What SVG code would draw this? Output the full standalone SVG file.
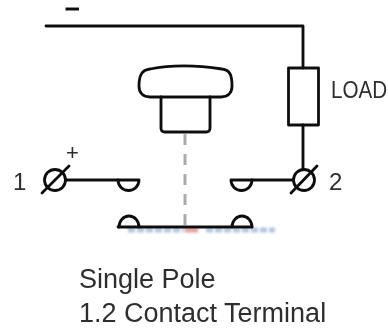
<svg xmlns="http://www.w3.org/2000/svg" width="388" height="329" viewBox="0 0 388 329">
<style>
.w{fill:none;stroke:#111;stroke-width:2.8;stroke-linecap:round;stroke-linejoin:round}
.t{font-family:"Liberation Sans",Arial,sans-serif;fill:#2e2e2e}
</style>
<defs>
<filter id="soft" filterUnits="userSpaceOnUse" x="0" y="0" width="388" height="329"><feGaussianBlur stdDeviation="0.5"/></filter>
<filter id="smudge" filterUnits="userSpaceOnUse" x="110" y="215" width="180" height="30"><feGaussianBlur stdDeviation="1"/></filter>
</defs>
<rect width="388" height="329" fill="#fff"/>
<g filter="url(#soft)">
<g id="connectors">
<path class="w" d="M46 26H303V68"/>
<path class="w" d="M303 125V169"/>
<path class="w" d="M66 180H118"/>
<path class="w" d="M252 180H292"/>
<path d="M185 134V226" fill="none" stroke="#aaa" stroke-width="3" stroke-dasharray="11 9"/>
</g>
<g id="minus"><path d="M65.500 9H79" stroke="#111" stroke-width="3"/></g>
<g id="load">
<rect class="w" x="288.500" y="68" width="30" height="57"/>
<text class="t" transform="translate(331 98) scale(.86 1)" font-size="24">LOAD</text>
</g>
<g id="button">
<path class="w" d="M150 97H221C228 97 232 93 232 86C232 75 230 70 222 69C196 65 170 65 150 69C142 70 139 75 139 86C139 93 143 97 150 97Z"/>
<path class="w" d="M161 97V128Q161 132 165 132H206Q210 132 210 128V97"/>
</g>
<g id="terminal1">
<circle class="w" cx="55" cy="180" r="10.500"/>
<path class="w" d="M42 193L69 166"/>
<text class="t" x="13" y="190" font-size="24">1</text>
<text class="t" x="66" y="160" font-size="22">+</text>
</g>
<g id="terminal2">
<circle class="w" cx="304" cy="180" r="10.500"/>
<path class="w" d="M291 193L317 166"/>
<text class="t" x="329" y="190" font-size="24">2</text>
</g>
<g id="fixed-contacts">
<path class="w" d="M118 180H139A10.500 10.500 0 0 1 118 180Z"/>
<path class="w" d="M231 180H252A10.500 10.500 0 0 1 231 180Z"/>
</g>
<g id="moving-contact">
<g filter="url(#smudge)">
<path d="M128 230H184M206 230H275" stroke="#b4c6e2" stroke-width="5" stroke-dasharray="7 2"/>
<path d="M185 230H198" stroke="#e8a0a0" stroke-width="5"/>
</g>
<path class="w" d="M118 227H252"/>
<path class="w" d="M119 227A10 11 0 0 1 139 227"/>
<path class="w" d="M232 227A10 11 0 0 1 252 227"/>
</g>
<g id="caption">
<text class="t" x="79" y="288" font-size="27">Single Pole</text>
<text class="t" x="79" y="322" font-size="27">1.2 Contact Terminal</text>
</g>
</g>
</svg>
